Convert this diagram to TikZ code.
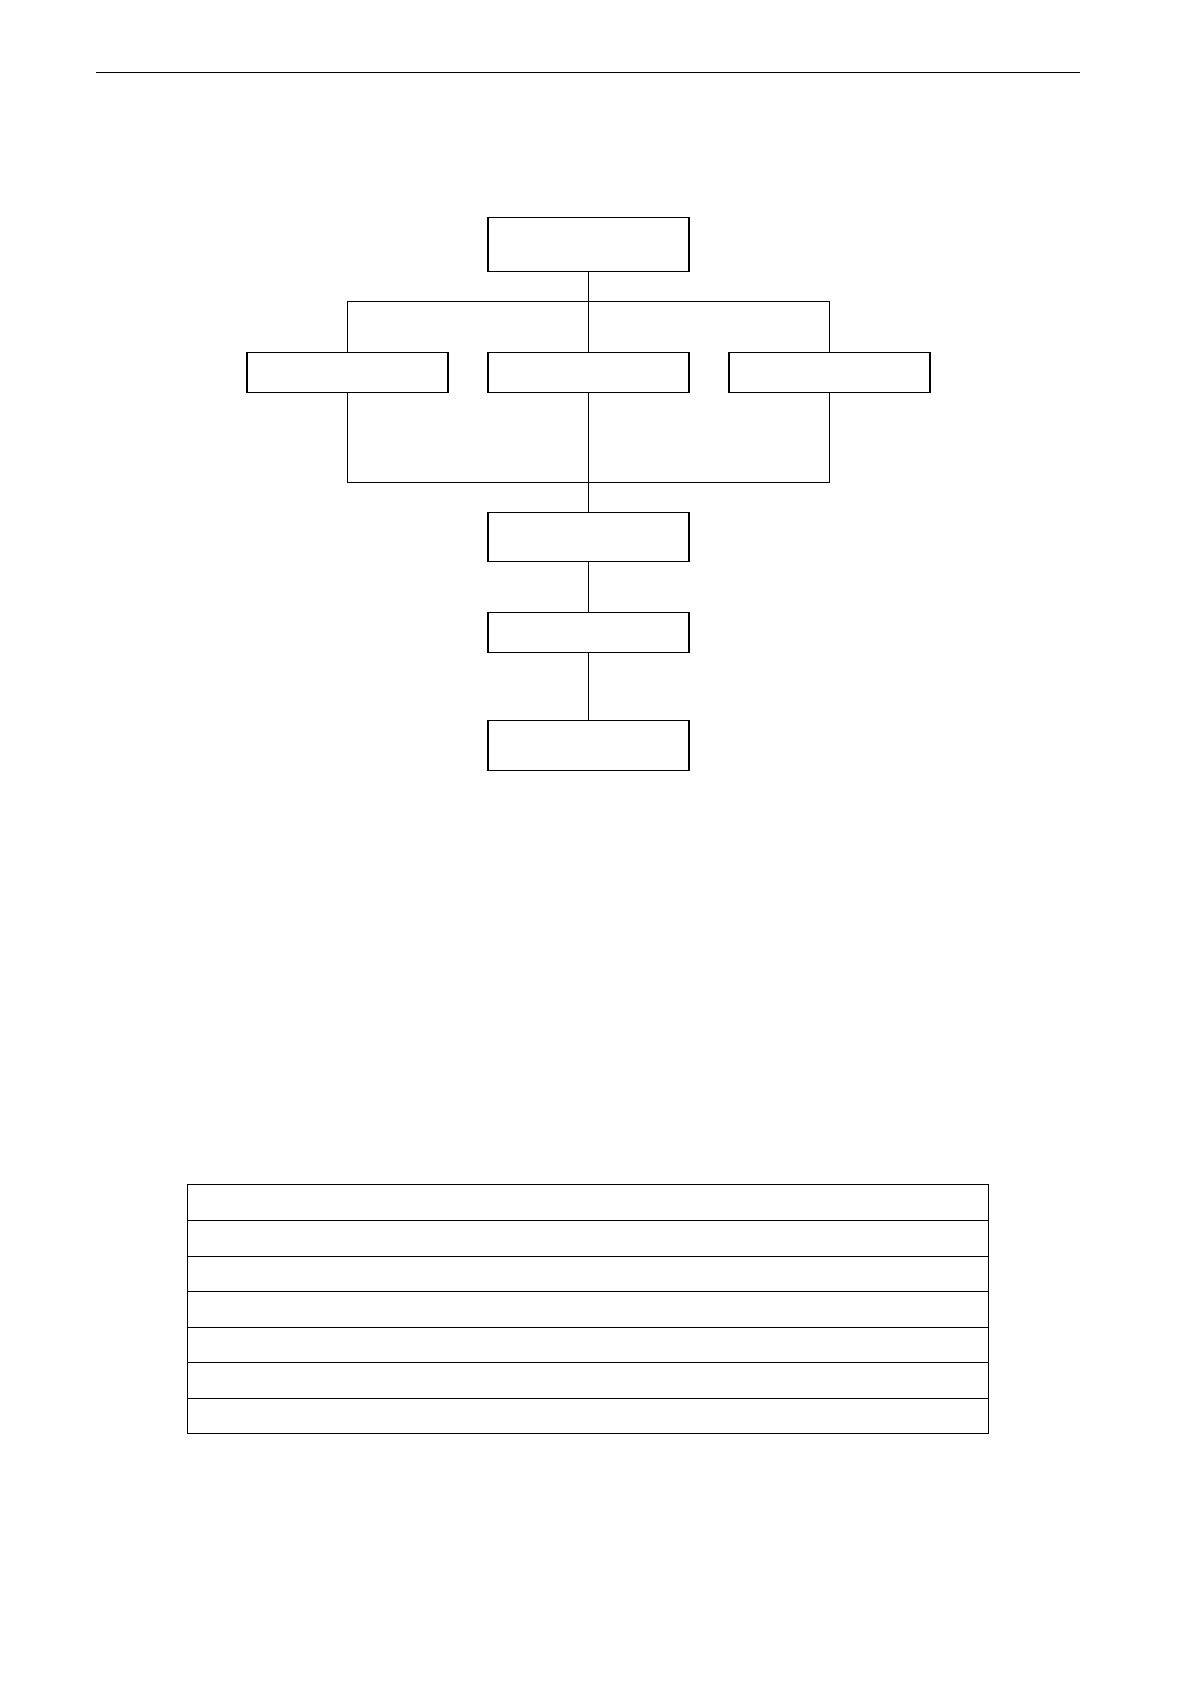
\documentclass[tikz,border=0pt]{standalone}
\begin{document}
\begin{tikzpicture}[x=0.5pt,y=-0.5pt,
  box/.style={draw=black,line width=0.55pt,rectangle,inner sep=0pt,minimum width=201pt/2},
  conn/.style={draw=black,line width=0.5pt},
  rowbox/.style={draw=black,line width=0.55pt,rectangle,inner sep=0pt,minimum width=801pt/2}]
\useasboundingbox (0,0) rectangle (1191,1684);
\fill[white] (0,0) rectangle (1191,1684);
% header rule
\coordinate (hl) at (96,72.5);
\coordinate (hr) at (1080,72.5);
\draw[conn] (hl) -- (hr);
% boxes
\node[box,minimum height=27pt] (top) at (588.5,244.5) {};
\node[box,minimum height=20pt] (left) at (347.5,372.5) {};
\node[box,minimum height=20pt] (mid) at (588.5,372.5) {};
\node[box,minimum height=20pt] (right) at (829.5,372.5) {};
\node[box,minimum height=24.5pt] (b4) at (588.5,537) {};
\node[box,minimum height=20pt] (b5) at (588.5,632.5) {};
\node[box,minimum height=25pt] (b6) at (588.5,745.5) {};
% bus coordinates
\coordinate (bt) at (588.5,301.5);
\coordinate (bb) at (588.5,482.5);
% connectors
\draw[conn] (top.south) -- (top.south |- mid.north);
\draw[conn] (left.north) |- (bt) -| (right.north);
\draw[conn] (left.south) |- (bb) -| (right.south);
\draw[conn] (mid.south) -- (mid.south |- b4.north);
\draw[conn] (b4.south) -- (b4.south |- b5.north);
\draw[conn] (b5.south) -- (b5.south |- b6.north);
% table
\node[rowbox,minimum height=18pt] (r1) at (588,1202.5) {};
\node[rowbox,minimum height=18pt] (r2) at (588,1238.5) {};
\node[rowbox,minimum height=17.5pt] (r3) at (588,1274) {};
\node[rowbox,minimum height=18pt] (r4) at (588,1309.5) {};
\node[rowbox,minimum height=17.5pt] (r5) at (588,1345) {};
\node[rowbox,minimum height=18pt] (r6) at (588,1380.5) {};
\node[rowbox,minimum height=17.5pt] (r7) at (588,1416) {};
\end{tikzpicture}
\end{document}
